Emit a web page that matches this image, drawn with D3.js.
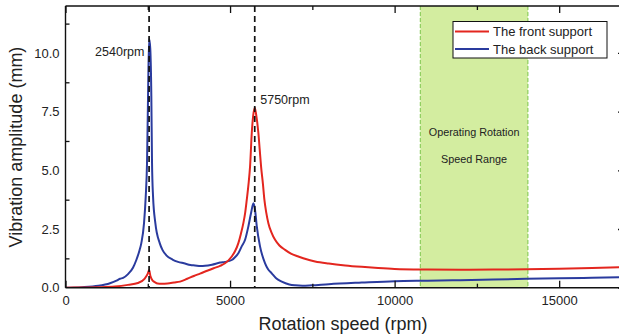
<!DOCTYPE html>
<html lang="en">
<head>
    <meta charset="UTF-8">
    <title>Vibration amplitude vs rotation speed</title>
    <script src="https://d3js.org/d3.v7.min.js"></script>
    <style>
        body {
            margin: 0;
            background: #fff;
            font-family: "Liberation Sans", Arial, sans-serif;
        }
        svg text {
            fill: #222;
        }
    </style>
</head>
<body>
<main></main>
<script>
    // rotation speed (rpm) / amplitude (mm)
    var frontRpm = [0, 500, 1000, 1500, 1900, 2200, 2400, 2500, 2540, 2580, 2650, 2711, 2800, 2912, 3100, 3300, 3480,
        3700, 3900, 4088, 4300, 4500, 4696, 4848, 5052, 5150, 5252, 5330, 5404, 5460, 5508, 5560, 5608, 5660, 5700,
        5750, 5790, 5860, 5900, 5942, 6000, 6043, 6100, 6164, 6260, 6368, 6500, 6672, 6850, 7076, 7300, 7584, 8000,
        8500, 9000, 9500, 10000, 11000, 12000, 13000, 14000, 15000, 16000, 17000];
    var frontAmp = [0, 0.01, 0.02, 0.05, 0.12, 0.2, 0.38, 0.6, 0.75, 0.5, 0.3, 0.24, 0.18, 0.17, 0.18, 0.22, 0.26,
        0.38, 0.5, 0.6, 0.72, 0.83, 0.93, 1.04, 1.33, 1.55, 1.9, 2.3, 2.75, 3.2, 3.75, 4.4, 5.17, 6.6, 7.3,
        7.67, 7.4, 6.6, 5.9, 5.17, 4.4, 3.75, 3.2, 2.75, 2.35, 2.04, 1.8, 1.61, 1.45, 1.33, 1.22, 1.12, 1.03,
        0.95, 0.89, 0.84, 0.8, 0.77, 0.76, 0.77, 0.79, 0.81, 0.84, 0.88];

    var backRpm = [0, 500, 1000, 1352, 1550, 1656, 1750, 1900, 2050, 2152, 2250, 2304, 2386, 2438, 2477, 2508, 2540,
        2575, 2608, 2629, 2660, 2730, 2863, 2950, 3064, 3250, 3419, 3600, 3800, 3936, 4100, 4240, 4450, 4696, 4848,
        5052, 5150, 5252, 5350, 5456, 5556, 5638, 5710, 5760, 5812, 5912, 6064, 6150, 6267, 6400, 6571, 6800, 6976,
        7200, 7483, 8000, 9000, 10000, 11000, 12000, 13000, 14000, 15000, 16000, 17000];
    var backAmp = [0, 0.02, 0.08, 0.19, 0.3, 0.38, 0.42, 0.58, 0.85, 1.18, 1.6, 1.9, 2.75, 3.89, 5.32, 8.16, 10.6,
        10.2, 8.16, 5.32, 3.89, 2.75, 1.9, 1.6, 1.38, 1.2, 1.1, 1.04, 0.97, 0.95, 0.92, 0.93, 0.98, 1.07, 1.1,
        1.18, 1.3, 1.47, 1.75, 2.04, 2.61, 3.18, 3.6, 3.3, 2.61, 1.75, 1.04, 0.8, 0.61, 0.4, 0.26, 0.14, 0.1,
        0.08, 0.1, 0.15, 0.22, 0.28, 0.3, 0.32, 0.35, 0.38, 0.4, 0.42, 0.45];

    var seriesNames = ['The front support', 'The back support'];
    var seriesColors = ['#e3261f', '#2a3b9e'];

    var resonance = [2540, 5750];
    var resonanceLabels = ['2540rpm', '5750rpm'];
    var operatingRange = [10780, 14050];

    var xMajor = [0, 5000, 10000, 15000];
    var xMinor = [2500, 7500, 12500];
    var yMajor = [0, 2.5, 5, 7.5, 10];
    var yMinor = [1.25, 3.75, 6.25, 8.75, 11.25];

    var w = 619, h = 336;
    var m = {top: 6, left: 65.5, bottom: 48.3, right: -6};
    var innerW = w - m.left - m.right;
    var innerH = h - m.top - m.bottom;

    var xScale = d3.scaleLinear().domain([0, 17000]).range([0, 559.5]);
    var yScale = d3.scaleLinear().domain([0, 12]).range([innerH, 0]);

    var svg = d3.select('main').append('svg')
        .attr('width', w)
        .attr('height', h);

    svg.append('defs').append('clipPath').attr('id', 'plot-clip')
        .append('rect').attr('width', innerW).attr('height', innerH);

    var g = svg.append('g').attr('transform', 'translate(' + m.left + ',' + m.top + ')');

    // operating range band
    g.append('rect')
        .attr('x', xScale(operatingRange[0]))
        .attr('y', 0)
        .attr('width', xScale(operatingRange[1]) - xScale(operatingRange[0]))
        .attr('height', innerH)
        .style('fill', '#d3eda0');
    [0, 1].forEach(function (i) {
        g.append('line')
            .attr('x1', xScale(operatingRange[i])).attr('x2', xScale(operatingRange[i]))
            .attr('y1', 0).attr('y2', innerH)
            .style('stroke', '#7cc64a')
            .style('stroke-width', 1)
            .style('stroke-dasharray', '4,2');
    });
    var bandMid = xScale((operatingRange[0] + operatingRange[1]) / 2);
    g.append('text').attr('x', bandMid).attr('y', 130).attr('text-anchor', 'middle')
        .attr('font-size', '10.8px').text('Operating Rotation');
    g.append('text').attr('x', bandMid).attr('y', 156.5).attr('text-anchor', 'middle')
        .attr('font-size', '10.8px').text('Speed Range');

    // curves
    var line = d3.line()
        .x(function (d) { return xScale(d[0]); })
        .y(function (d) { return yScale(d[1]); })
        .curve(d3.curveMonotoneX);

    var frontData = frontRpm.map(function (r, i) { return [r, frontAmp[i]]; });
    var backData = backRpm.map(function (r, i) { return [r, backAmp[i]]; });

    var curves = g.append('g').attr('clip-path', 'url(#plot-clip)');
    curves.append('path').datum(backData)
        .attr('d', line)
        .style('fill', 'none')
        .style('stroke', seriesColors[1])
        .style('stroke-width', 2);
    curves.append('path').datum(frontData)
        .attr('d', line)
        .style('fill', 'none')
        .style('stroke', seriesColors[0])
        .style('stroke-width', 2);

    // resonance markers
    resonance.forEach(function (r, i) {
        g.append('line')
            .attr('x1', xScale(r)).attr('x2', xScale(r))
            .attr('y1', 0).attr('y2', innerH)
            .style('stroke', '#111')
            .style('stroke-width', 1.7)
            .style('stroke-dasharray', '6,4');
    });
    g.append('text').attr('x', xScale(resonance[0]) - 54).attr('y', 50)
        .attr('font-size', '12.5px').text(resonanceLabels[0]);
    g.append('text').attr('x', xScale(resonance[1]) + 5.5).attr('y', 98)
        .attr('font-size', '12.5px').text(resonanceLabels[1]);

    // axes (ticks point inward)
    var fmtY = d3.format('.1f');
    g.append('g').attr('transform', 'translate(0,' + innerH + ')')
        .call(d3.axisBottom(xScale).tickValues(xMajor).tickSize(-7).tickPadding(8).tickFormat(d3.format('d')))
        .call(function (a) {
            a.select('.domain').remove();
            a.selectAll('text').attr('font-size', '13px').attr('font-family', '"Liberation Sans", Arial, sans-serif').style('fill', '#222');
        });
    g.append('g').attr('transform', 'translate(0,' + innerH + ')')
        .call(d3.axisBottom(xScale).tickValues(xMinor).tickSize(-4).tickFormat(''))
        .call(function (a) { a.select('.domain').remove(); });
    g.append('g')
        .call(d3.axisTop(xScale).tickValues(xMajor).tickSize(-7).tickFormat(''))
        .call(function (a) { a.select('.domain').remove(); });
    g.append('g')
        .call(d3.axisTop(xScale).tickValues(xMinor).tickSize(-4).tickFormat(''))
        .call(function (a) { a.select('.domain').remove(); });

    g.append('g')
        .call(d3.axisLeft(yScale).tickValues(yMajor).tickSize(0).tickPadding(6).tickFormat(fmtY))
        .call(function (a) {
            a.select('.domain').remove();
            a.selectAll('text').attr('font-size', '13px').attr('font-family', '"Liberation Sans", Arial, sans-serif').style('fill', '#222');
        });
    g.append('g')
        .call(d3.axisLeft(yScale).tickValues(yMinor).tickSize(-4).tickFormat(''))
        .call(function (a) { a.select('.domain').remove(); });
    g.append('g').attr('transform', 'translate(' + innerW + ',0)')
        .call(d3.axisRight(yScale).tickValues(yMajor).tickSize(-7).tickFormat(''))
        .call(function (a) { a.select('.domain').remove(); });

    g.selectAll('.tick line').style('stroke', '#111').style('stroke-width', 1.3);

    // frame
    g.append('line').attr('x1', 0).attr('x2', innerW).attr('y1', 0).attr('y2', 0)
        .style('stroke', '#111').style('stroke-width', 1.4);
    g.append('line').attr('x1', 0).attr('x2', innerW).attr('y1', innerH).attr('y2', innerH)
        .style('stroke', '#111').style('stroke-width', 1.4);
    g.append('line').attr('x1', 0).attr('x2', 0).attr('y1', 0).attr('y2', innerH)
        .style('stroke', '#111').style('stroke-width', 1.4);

    // axis titles
    svg.append('text')
        .attr('x', 343).attr('y', 330)
        .attr('text-anchor', 'middle')
        .attr('font-size', '18px')
        .text('Rotation speed (rpm)');
    svg.append('text')
        .attr('transform', 'rotate(-90)')
        .attr('x', -147).attr('y', 22)
        .attr('text-anchor', 'middle')
        .attr('font-size', '18px')
        .text('Vibration amplitude (mm)');

    // legend
    var legend = svg.append('g').attr('id', 'legend');
    legend.append('rect')
        .attr('x', 453).attr('y', 21.5)
        .attr('width', 154).attr('height', 36.5)
        .style('fill', '#fff')
        .style('stroke', '#111')
        .style('stroke-width', 1);
    seriesNames.forEach(function (name, i) {
        var yy = 31.5 + i * 17.5;
        legend.append('line')
            .attr('x1', 455).attr('x2', 489).attr('y1', yy).attr('y2', yy)
            .style('stroke', seriesColors[i]).style('stroke-width', 2);
        legend.append('text')
            .attr('x', 493).attr('y', yy + 4.5)
            .attr('font-size', '13px')
            .text(name);
    });
</script>
</body>
</html>
